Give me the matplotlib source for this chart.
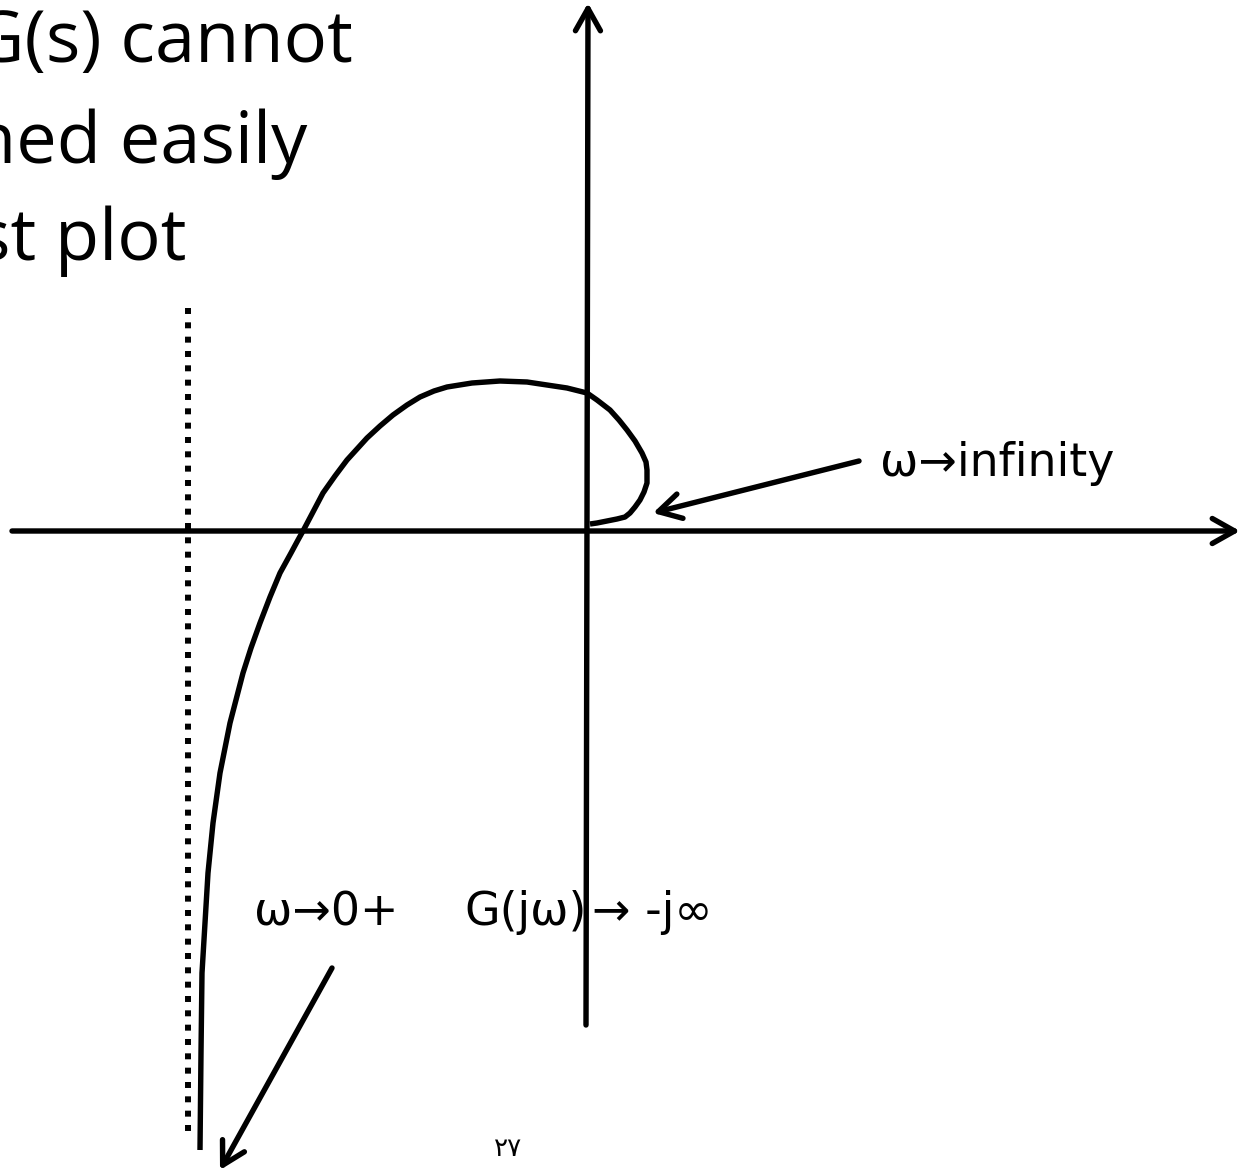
import matplotlib.pyplot as plt

# 曲线数据（从图中读取的 Nyquist 曲线，实部 / 虚部）
curve_re = [-3.87, -3.86, -3.85, -3.82, -3.79, -3.74, -3.67, -3.57, -3.44, -3.36,
            -3.27, -3.17, -3.07, -2.96, -2.89, -2.84, -2.74, -2.64, -2.52, -2.40,
            -2.20, -2.07, -1.94, -1.80, -1.67, -1.53, -1.40, -1.15, -0.87, -0.60,
            -0.40, -0.20, 0.00, 0.10, 0.23, 0.32, 0.40, 0.48, 0.55, 0.59,
            0.60, 0.60, 0.57, 0.53, 0.48, 0.43, 0.38, 0.30, 0.20, 0.10, 0.03]
curve_im = [-6.19, -5.22, -4.42, -3.92, -3.42, -2.92, -2.42, -1.92, -1.42, -1.17,
            -0.92, -0.66, -0.42, -0.22, -0.09, 0.00, 0.19, 0.38, 0.55, 0.71,
            0.93, 1.05, 1.16, 1.26, 1.34, 1.40, 1.44, 1.48, 1.50, 1.49,
            1.46, 1.43, 1.38, 1.31, 1.21, 1.11, 1.01, 0.90, 0.78, 0.69,
            0.61, 0.48, 0.39, 0.31, 0.24, 0.18, 0.14, 0.12, 0.10, 0.08, 0.07]

# 渐近线（虚线）位置
asym_re = -3.99
asym_im = [2.23, -6.06]

# 标题文字（左侧被裁掉的部分）
title_lines = ["G(s) cannot", "hed easily", "st plot"]
label_inf = "\u03c9\u2192infinity"
label_zero = "\u03c9\u21920+"
label_g = "G(j\u03c9)"
label_lim = "\u2192 -j\u221e"
page_no = "\u0662\u0667"

fig = plt.figure(figsize=(12.41, 11.71), dpi=100)
ax = fig.add_axes([0, 0, 1, 1])
ax.set_xlim(-5.87, 6.54)
ax.set_ylim(-6.40, 5.31)
ax.axis('off')

LW = 3.9
arrow_kw = dict(arrowstyle='->,head_length=0.8,head_width=0.45', lw=LW,
                color='black', shrinkA=0, shrinkB=0, mutation_scale=20)

# 坐标轴
ax.annotate('', xy=(6.53, 0), xytext=(-5.75, 0), arrowprops=arrow_kw)
ax.annotate('', xy=(0.01, 5.28), xytext=(-0.01, -4.94), arrowprops=arrow_kw)

# 渐近线
ax.plot([asym_re, asym_re], asym_im, color='black', lw=4.3,
        linestyle=(0, (1, 1.4)), dash_capstyle='butt')

# Nyquist 曲线
ax.plot(curve_re, curve_im, color='black', lw=LW, solid_joinstyle='round',
        solid_capstyle='butt')

# 标注箭头
ax.annotate('', xy=(0.66, 0.18), xytext=(2.72, 0.70), arrowprops=arrow_kw)
ax.annotate('', xy=(-3.67, -6.39), xytext=(-2.55, -4.37), arrowprops=arrow_kw)

# 文字
sans = ['DejaVu Sans']
ax.text(2.93, 0.55, label_inf, fontsize=33, family=sans, va='baseline', ha='left')
ax.text(-3.33, -3.94, label_zero, fontsize=33, family=sans, va='baseline', ha='left')
ax.text(-1.23, -3.94, label_g, fontsize=33, family=sans, va='baseline', ha='left')
ax.text(0.05, -3.94, label_lim, fontsize=33, family=sans, va='baseline', ha='left')

rights = [-2.34, -2.80, -4.00]
bases = [4.69, 3.68, 2.71]
for line, r, b in zip(title_lines, rights, bases):
    ax.text(r, b, line, fontsize=52, family=['Open Sans', 'DejaVu Sans'],
            va='baseline', ha='right')

ax.text(-0.93, -6.25, page_no, fontsize=19, family=['DejaVu Sans'],
        va='baseline', ha='left')

fig.savefig('out.png', dpi=100)
